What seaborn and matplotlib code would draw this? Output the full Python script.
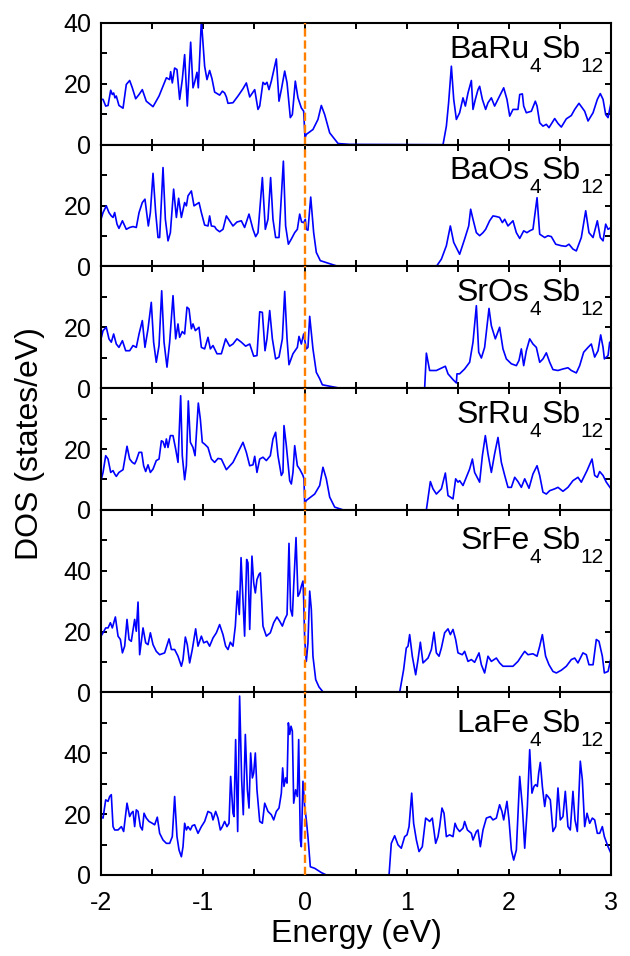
import matplotlib
matplotlib.use("Agg")
import matplotlib.pyplot as plt
import seaborn as sns
import pandas as pd
from matplotlib.ticker import MultipleLocator

# ---------------- data (energy in eV, DOS in states/eV) ----------------
e_baru = [-2.000,-1.980,-1.954,-1.931,-1.905,-1.889,-1.876,-1.863,-1.850,-1.824,-1.784,-1.752,-1.719,-1.693,-1.660,-1.627,-1.595,-1.556,-1.490,-1.431,
          -1.392,-1.359,-1.327,-1.317,-1.301,-1.278,-1.255,-1.229,-1.203,-1.180,-1.154,-1.121,-1.098,-1.082,-1.059,-1.046,-1.016,-0.984,-0.961,-0.935,
          -0.912,-0.886,-0.837,-0.810,-0.788,-0.771,-0.755,-0.706,-0.657,-0.608,-0.575,-0.542,-0.493,-0.461,-0.444,-0.412,-0.392,-0.373,-0.353,-0.330,
          -0.304,-0.281,-0.255,-0.232,-0.199,-0.176,-0.144,-0.124,-0.095,-0.069,-0.036,-0.013,0.000,0.013,0.078,0.127,0.160,0.193,0.242,0.324,
          0.438,1.353,1.386,1.408,1.435,1.458,1.484,1.516,1.549,1.572,1.598,1.631,1.647,1.670,1.696,1.712,1.739,1.771,1.794,1.827,
          1.859,1.892,1.948,1.980,2.007,2.039,2.088,2.105,2.131,2.144,2.170,2.219,2.258,2.275,2.301,2.333,2.366,2.392,2.448,2.480,
          2.513,2.562,2.611,2.644,2.686,2.719,2.742,2.775,2.824,2.866,2.895,2.922,2.948,2.971,3.000]
d_baru = [14.9,14.9,12.7,12.9,17.9,16.5,17.0,15.4,16.0,12.9,12.0,19.8,21.1,18.7,15.1,16.5,18.1,14.3,12.5,16.0,
          19.2,22.0,21.4,24.0,20.3,25.2,24.7,14.9,21.4,29.6,12.7,33.7,18.7,20.5,23.8,18.7,41.0,25.8,21.4,24.4,
          21.7,17.3,16.3,17.6,17.0,15.7,13.6,13.8,16.0,18.4,20.3,15.7,18.1,11.6,12.7,20.5,19.8,20.5,18.1,20.9,
          24.7,28.2,14.3,18.1,24.2,20.3,8.9,9.9,20.9,15.4,12.1,11.0,2.3,3.4,5.0,8.3,12.9,9.9,3.9,0.4,
          0.1,0.0,6.1,13.8,25.8,14.9,8.3,10.5,15.4,12.7,17.0,21.1,11.6,14.9,18.1,19.2,14.9,11.6,13.8,15.4,
          12.7,14.9,18.7,14.9,9.4,11.6,11.6,16.5,16.7,12.7,10.5,11.0,14.3,12.7,7.2,6.1,6.7,5.6,8.6,7.0,
          5.8,8.5,9.6,11.6,13.6,12.1,11.0,7.8,10.5,14.9,16.8,14.9,9.9,8.9,13.8]

e_baos = [-2.000,-1.980,-1.948,-1.922,-1.899,-1.882,-1.866,-1.843,-1.824,-1.790,
          -1.752,-1.719,-1.686,-1.654,-1.627,-1.595,-1.569,-1.536,-1.516,-1.490,
          -1.464,-1.441,-1.425,-1.392,-1.369,-1.343,-1.320,-1.288,-1.261,-1.239,
          -1.212,-1.180,-1.163,-1.147,-1.114,-1.088,-1.065,-1.039,-1.016,-0.984,
          -0.951,-0.935,-0.918,-0.886,-0.869,-0.837,-0.804,-0.771,-0.739,-0.706,
          -0.667,-0.624,-0.592,-0.549,-0.510,-0.484,-0.461,-0.418,-0.389,-0.363,
          -0.337,-0.314,-0.288,-0.255,-0.212,-0.190,-0.163,-0.134,-0.101,-0.075,
          -0.052,-0.033,-0.013,0.003,0.013,0.029,0.056,0.085,0.111,0.150,
          0.307,0.340,1.288,1.337,1.386,1.425,1.458,1.516,1.565,1.605,
          1.624,1.647,1.680,1.712,1.745,1.771,1.810,1.843,1.876,1.908,
          1.935,1.958,1.990,2.039,2.072,2.105,2.144,2.176,2.203,2.235,
          2.275,2.301,2.350,2.382,2.415,2.458,2.513,2.556,2.588,2.627,
          2.660,2.709,2.752,2.784,2.824,2.866,2.895,2.922,2.948,2.971,
          3.000]
d_baos = [15.5,17.7,19.9,17.7,16.6,16.1,17.7,13.9,12.5,15.0,
          12.2,12.8,13.1,12.8,17.7,21.0,22.1,13.3,17.7,30.6,
          17.7,9.5,9.5,32.5,15.5,8.4,11.1,25.4,16.1,22.4,
          16.1,21.0,19.9,23.2,24.8,19.9,20.4,21.0,17.7,13.6,
          13.3,16.6,13.3,13.1,12.2,11.4,12.2,16.6,15.0,13.3,
          14.6,15.0,12.8,17.2,12.2,9.8,11.1,29.2,12.2,15.5,
          29.2,15.5,9.5,9.5,34.6,13.3,7.3,9.0,11.1,12.2,
          17.2,14.6,14.4,15.5,12.2,11.9,22.8,11.1,4.6,1.9,
          0.2,0.0,0.0,2.4,6.8,13.3,7.9,4.0,9.0,13.3,
          18.8,15.5,11.1,10.1,11.1,12.2,15.0,16.6,16.4,16.1,
          14.4,15.5,13.3,15.0,11.1,9.2,11.7,11.1,11.7,12.2,
          22.6,10.6,9.5,10.1,9.8,7.3,6.8,6.6,7.3,5.7,
          5.1,9.5,18.3,11.1,9.5,15.0,9.5,8.4,13.9,12.2,
          12.8]

e_sros = [-2.000,-1.980,-1.948,-1.922,-1.899,-1.876,-1.850,-1.824,-1.790,-1.758,
          -1.719,-1.686,-1.654,-1.627,-1.595,-1.569,-1.539,-1.507,-1.484,-1.458,
          -1.431,-1.405,-1.382,-1.353,-1.327,-1.294,-1.268,-1.245,-1.229,-1.203,
          -1.180,-1.157,-1.137,-1.114,-1.098,-1.075,-1.039,-1.016,-0.984,-0.951,
          -0.928,-0.902,-0.863,-0.820,-0.778,-0.739,-0.706,-0.667,-0.624,-0.582,
          -0.542,-0.503,-0.471,-0.444,-0.418,-0.392,-0.373,-0.346,-0.320,-0.288,
          -0.255,-0.222,-0.199,-0.176,-0.157,-0.118,-0.075,-0.059,-0.036,-0.013,
          0.013,0.029,0.046,0.078,0.111,0.144,0.170,0.340,1.173,1.190,
          1.222,1.288,1.337,1.376,1.402,1.451,1.484,1.490,1.516,1.565,
          1.614,1.647,1.680,1.703,1.729,1.761,1.804,1.827,1.866,1.908,
          1.941,1.974,2.023,2.072,2.098,2.121,2.144,2.170,2.203,2.235,
          2.268,2.301,2.333,2.366,2.399,2.431,2.480,2.529,2.578,2.611,
          2.660,2.693,2.732,2.775,2.807,2.840,2.873,2.899,2.922,2.935,
          2.971,2.987,3.000]
d_sros = [16.2,18.9,20.0,16.2,15.1,17.8,14.5,13.4,15.6,12.3,
          12.3,14.0,13.4,17.8,22.2,13.4,19.5,28.2,15.1,8.5,
          14.0,32.0,15.1,6.9,15.1,30.4,16.2,21.1,16.7,18.6,
          17.8,26.6,26.0,19.5,21.1,18.9,20.0,13.4,12.9,16.7,
          12.9,14.0,11.3,11.3,16.2,13.8,14.5,16.2,15.1,13.8,
          14.5,10.5,10.7,25.1,24.9,12.3,16.2,25.5,16.2,9.6,
          10.2,16.2,31.8,16.2,7.7,11.3,13.4,17.0,14.5,17.8,
          12.9,13.4,23.6,12.9,5.2,3.1,1.1,0.0,0.0,11.5,
          5.8,5.8,6.6,7.2,4.7,2.8,1.7,4.7,4.7,6.3,
          8.5,15.1,27.1,11.8,9.9,13.4,26.2,20.5,16.2,20.0,
          12.9,9.6,8.0,7.4,9.1,12.9,7.4,12.3,16.2,14.5,
          13.4,8.5,9.6,11.6,8.5,6.1,5.8,6.3,6.7,5.8,
          5.0,7.4,11.8,13.4,14.5,10.2,12.3,17.5,13.4,9.6,
          10.7,15.1,14.0]

e_srru = [-2.000,-1.980,-1.954,-1.931,-1.905,-1.882,-1.866,-1.850,-1.824,-1.784,
          -1.745,-1.719,-1.693,-1.670,-1.654,-1.627,-1.601,-1.582,-1.562,-1.539,
          -1.516,-1.490,-1.458,-1.431,-1.408,-1.392,-1.373,-1.359,-1.343,-1.320,
          -1.294,-1.268,-1.245,-1.219,-1.203,-1.180,-1.163,-1.144,-1.124,-1.098,
          -1.078,-1.046,-1.026,-1.007,-0.984,-0.951,-0.918,-0.886,-0.853,-0.820,
          -0.771,-0.706,-0.657,-0.608,-0.575,-0.542,-0.510,-0.493,-0.471,-0.444,
          -0.412,-0.379,-0.340,-0.314,-0.288,-0.265,-0.232,-0.216,-0.206,-0.183,
          -0.150,-0.134,-0.118,-0.101,-0.075,-0.052,-0.020,-0.010,-0.003,0.013,
          0.095,0.144,0.176,0.209,0.242,0.291,0.373,1.190,1.229,1.255,
          1.288,1.337,1.376,1.402,1.451,1.477,1.500,1.516,1.549,1.582,
          1.614,1.641,1.663,1.712,1.739,1.768,1.794,1.827,1.859,1.892,
          1.925,1.958,1.990,2.023,2.056,2.088,2.121,2.154,2.196,2.235,
          2.275,2.301,2.333,2.366,2.399,2.448,2.480,2.529,2.578,2.627,
          2.676,2.709,2.765,2.814,2.840,2.866,2.889,2.922,2.954,3.000]
d_srru = [9.6,12.3,17.8,16.7,12.3,12.9,11.8,11.0,12.3,13.2,
          20.9,16.7,15.6,15.1,16.2,18.9,18.9,14.5,12.6,14.8,
          12.3,13.4,16.2,16.7,22.7,22.4,20.5,23.3,20.5,24.4,
          24.4,20.0,15.6,37.5,17.8,9.9,14.5,35.8,22.2,20.5,
          17.8,35.1,29.8,22.2,21.6,20.5,16.7,15.6,16.9,16.7,
          13.2,15.6,18.9,22.2,18.9,14.5,14.8,17.6,12.3,16.7,
          17.3,16.2,17.8,23.3,25.5,17.8,11.3,12.3,27.7,21.1,
          9.6,8.5,12.3,21.1,14.5,13.4,11.3,10.2,2.0,3.1,
          5.2,8.0,14.0,10.2,4.2,0.9,0.0,0.0,9.3,6.9,
          5.2,6.9,12.1,4.7,3.6,10.2,9.1,9.6,8.0,10.7,
          13.4,16.7,12.3,9.1,17.8,24.4,18.4,12.3,18.4,23.8,
          15.6,11.3,7.4,7.4,10.7,9.3,7.4,10.2,7.1,11.8,
          14.5,11.3,5.8,5.2,6.3,6.9,7.4,6.1,7.4,9.6,
          10.7,9.1,12.9,16.7,11.3,10.7,12.6,11.3,9.1,6.9]

e_srfe = [-2.000,-1.980,-1.954,-1.931,-1.908,-1.889,-1.859,-1.833,-1.810,-1.790,
          -1.768,-1.745,-1.725,-1.703,-1.670,-1.654,-1.637,-1.621,-1.588,-1.562,
          -1.539,-1.516,-1.490,-1.458,-1.425,-1.376,-1.333,-1.310,-1.278,-1.245,
          -1.212,-1.196,-1.173,-1.154,-1.131,-1.105,-1.072,-1.049,-1.016,-0.993,
          -0.961,-0.935,-0.902,-0.869,-0.837,-0.804,-0.778,-0.755,-0.732,-0.706,
          -0.683,-0.663,-0.644,-0.627,-0.608,-0.592,-0.572,-0.559,-0.542,-0.520,
          -0.503,-0.487,-0.471,-0.451,-0.438,-0.412,-0.379,-0.340,-0.307,-0.275,
          -0.248,-0.222,-0.199,-0.176,-0.157,-0.141,-0.124,-0.111,-0.088,-0.069,
          -0.052,-0.036,-0.020,-0.013,-0.003,0.013,0.029,0.046,0.062,0.078,
          0.105,0.137,0.176,0.275,0.928,0.967,0.993,1.010,1.026,1.052,
          1.085,1.108,1.131,1.157,1.206,1.239,1.265,1.288,1.314,1.337,
          1.369,1.402,1.425,1.451,1.477,1.500,1.542,1.565,1.598,1.631,
          1.663,1.706,1.729,1.761,1.794,1.827,1.876,1.908,1.941,1.990,
          2.039,2.088,2.131,2.154,2.186,2.235,2.275,2.301,2.327,2.359,
          2.392,2.431,2.464,2.513,2.562,2.611,2.644,2.676,2.725,2.758,
          2.784,2.824,2.856,2.882,2.915,2.935,2.971,3.000]
d_srfe = [18.5,19.6,21.2,21.2,22.9,21.2,24.8,18.5,17.4,13.0,
          15.2,24.0,17.4,16.8,24.0,20.1,29.7,12.4,21.2,16.3,
          15.7,19.6,15.7,13.5,12.4,13.0,17.6,14.1,14.1,11.9,
          8.6,10.8,18.2,15.7,9.7,14.1,20.9,15.2,18.5,16.3,
          16.8,15.2,17.9,19.6,22.3,19.0,15.2,14.1,16.5,15.2,
          21.8,33.3,25.6,44.3,30.5,18.5,43.7,42.6,20.7,44.8,
          36.0,32.7,37.1,38.8,39.3,21.8,18.5,19.6,22.9,24.8,
          23.4,21.8,24.0,25.6,49.0,27.3,25.1,34.9,50.9,31.6,
          32.7,34.9,36.6,30.5,17.4,10.2,16.3,33.3,27.3,11.9,
          4.2,1.8,0.2,0.0,0.0,7.5,14.6,15.2,19.0,11.9,
          5.8,10.8,16.5,9.7,11.3,14.1,19.8,13.0,11.9,14.6,
          19.6,20.9,19.0,20.7,17.4,13.0,12.4,13.5,10.2,10.8,
          9.9,13.0,9.1,6.4,11.9,10.2,11.3,9.7,8.6,8.6,
          8.6,10.2,12.4,13.5,12.4,12.7,11.9,15.2,19.0,11.9,
          9.1,6.9,6.4,7.3,8.6,10.8,11.3,9.7,13.0,12.4,
          9.1,9.1,17.4,16.8,11.9,6.4,6.9,11.3]

e_lafe = [-2.000,-1.980,-1.954,-1.931,-1.915,-1.899,-1.882,-1.866,-1.833,-1.800,
          -1.778,-1.745,-1.719,-1.703,-1.686,-1.670,-1.654,-1.637,-1.614,-1.595,
          -1.578,-1.556,-1.529,-1.497,-1.474,-1.448,-1.425,-1.392,-1.359,-1.327,
          -1.301,-1.278,-1.255,-1.235,-1.212,-1.196,-1.180,-1.163,-1.147,-1.124,
          -1.105,-1.082,-1.049,-1.016,-0.984,-0.951,-0.918,-0.902,-0.876,-0.853,
          -0.830,-0.810,-0.788,-0.765,-0.745,-0.729,-0.706,-0.696,-0.680,-0.660,
          -0.641,-0.621,-0.605,-0.585,-0.565,-0.549,-0.533,-0.516,-0.503,-0.487,
          -0.471,-0.444,-0.418,-0.395,-0.363,-0.330,-0.307,-0.281,-0.255,-0.232,
          -0.219,-0.206,-0.190,-0.176,-0.163,-0.150,-0.137,-0.124,-0.111,-0.092,
          -0.075,-0.062,-0.046,-0.036,-0.020,-0.003,0.013,0.029,0.052,0.095,
          0.160,0.209,0.824,0.846,0.879,0.912,0.944,0.977,1.000,1.020,
          1.046,1.065,1.092,1.118,1.150,1.183,1.206,1.222,1.248,1.281,
          1.304,1.320,1.343,1.363,1.386,1.418,1.451,1.471,1.490,1.516,
          1.549,1.565,1.592,1.631,1.647,1.680,1.696,1.719,1.745,1.778,
          1.817,1.843,1.876,1.908,1.931,1.948,1.980,2.000,2.023,2.046,
          2.072,2.105,2.131,2.154,2.180,2.203,2.225,2.245,2.261,2.278,
          2.291,2.307,2.327,2.350,2.366,2.382,2.405,2.431,2.458,2.480,
          2.503,2.529,2.552,2.578,2.601,2.627,2.647,2.670,2.699,2.719,
          2.742,2.765,2.791,2.817,2.840,2.866,2.889,2.915,2.935,2.971,
          3.000]
d_lafe = [19.2,18.7,24.7,24.2,25.8,26.4,15.9,14.8,14.8,15.9,
          14.3,23.6,19.2,20.3,20.9,15.9,21.4,20.9,15.9,14.8,
          20.3,18.7,17.6,17.0,16.5,19.0,13.7,11.5,10.4,10.4,
          12.6,25.8,12.6,8.2,6.0,9.3,17.0,14.8,15.9,14.8,
          16.2,16.5,13.7,15.9,17.6,20.9,20.3,18.1,20.9,18.7,
          14.8,15.9,17.6,15.9,17.0,32.4,20.3,19.2,44.5,14.3,
          58.8,31.3,19.8,46.2,28.0,22.0,40.1,31.9,33.5,40.1,
          28.0,17.6,17.0,23.6,20.9,19.8,18.1,20.9,22.0,26.9,
          35.2,29.1,31.9,30.2,50.0,46.2,48.9,47.3,23.6,28.0,
          25.8,44.5,11.5,9.3,30.8,22.5,18.1,12.6,2.7,2.2,
          0.8,0.0,0.0,10.4,12.9,9.9,8.8,12.6,13.2,15.9,
          26.9,17.0,11.5,7.7,9.3,18.7,18.1,17.6,18.7,10.4,
          12.6,15.9,22.0,20.3,12.6,13.2,12.6,17.0,15.4,14.3,
          15.4,17.6,14.8,13.7,11.5,14.3,14.8,9.3,14.8,18.7,
          19.2,18.1,18.7,23.1,20.9,18.1,24.2,18.1,8.2,4.9,
          8.2,32.4,22.5,8.8,22.5,41.2,26.9,29.1,29.7,29.1,
          33.5,37.0,29.1,22.5,26.4,25.8,24.7,14.3,15.9,28.6,
          18.1,19.2,27.5,15.9,14.8,27.5,18.1,14.3,37.4,31.3,
          15.9,20.3,17.0,18.7,18.1,13.7,13.7,15.9,12.6,9.3,
          7.1]

labels = [["BaRu", "4", "Sb", "12"],
          ["BaOs", "4", "Sb", "12"],
          ["SrOs", "4", "Sb", "12"],
          ["SrRu", "4", "Sb", "12"],
          ["SrFe", "4", "Sb", "12"],
          ["LaFe", "4", "Sb", "12"]]
energies = [e_baru, e_baos, e_sros, e_srru, e_srfe, e_lafe]
dos_values = [d_baru, d_baos, d_sros, d_srru, d_srfe, d_lafe]
y_max = [40, 40, 40, 40, 60, 60]
x_ticks = [-2, -1, 0, 1, 2, 3]

# ---------------- style ----------------
sns.set_theme(style="ticks", rc={"axes.edgecolor": "black", "xtick.color": "black",
                                 "ytick.color": "black", "text.color": "black",
                                 "axes.labelcolor": "black"})
plt.rcParams["font.family"] = ["Liberation Sans", "DejaVu Sans"]
plt.rcParams["axes.unicode_minus"] = False

W, H = 630, 956
fig = plt.figure(figsize=(W / 100, H / 100), dpi=100)
gs = fig.add_gridspec(6, 1, height_ratios=y_max, hspace=0,
                      left=101 / W, right=611 / W, top=1 - 23 / H, bottom=1 - 875 / H)

MAIN_FS, SUB_FS = 23, 15


def chem_label(ax, parts, base_pt):
    prev = None
    for i, text in enumerate(reversed(parts)):
        is_sub = (i % 2 == 0)
        fs = SUB_FS if is_sub else MAIN_FS
        dy = -(base_pt + (10 if is_sub else 0))
        if prev is None:
            t = ax.annotate(text, xy=(0.985, 1), xycoords="axes fraction",
                            xytext=(0, dy), textcoords="offset points",
                            ha="right", va="baseline", fontsize=fs)
        else:
            t = ax.annotate(text, xy=(0, 1), xycoords=(prev, "axes fraction"),
                            xytext=(0, dy), textcoords="offset points",
                            ha="right", va="baseline", fontsize=fs)
        prev = t


axes = []
for i in range(6):
    ax = fig.add_subplot(gs[i])
    axes.append(ax)
    df = pd.DataFrame({"E": energies[i], "DOS": dos_values[i]})
    sns.lineplot(data=df, x="E", y="DOS", ax=ax, color="#0000FF", lw=1.2,
                 estimator=None, sort=False)
    ax.axvline(0, color="#FF8000", lw=1.7, ls=(0, (3.5, 1.6)), zorder=3)
    ax.set_xlim(-2, 3)
    ax.set_ylim(0, y_max[i])
    ax.set_xticks(x_ticks)
    ax.xaxis.set_minor_locator(MultipleLocator(0.5))
    yt = list(range(0, y_max[i] + 1, 20))
    ax.set_yticks(yt)
    ylabels = [str(v) for v in yt]
    if i > 0:
        ylabels[-1] = ""
    ax.set_yticklabels(ylabels)
    ax.yaxis.set_minor_locator(MultipleLocator(10))
    ax.tick_params(which="both", direction="in", top=True, right=True,
                   length=4.5, width=1.4, labelsize=18)
    ax.tick_params(axis="y", which="major", pad=7)
    ax.tick_params(axis="x", which="major", pad=11.5)
    for s in ax.spines.values():
        s.set_linewidth(1.5)
        s.set_color("black")
    ax.set_ylabel("")
    if i < 5:
        ax.tick_params(labelbottom=False)
        ax.set_xlabel("")
    else:
        ax.set_xticklabels([str(v) for v in x_ticks])
        ax.set_xlabel("Energy (eV)", fontsize=23, labelpad=3)
    chem_label(ax, labels[i], 25 if y_max[i] == 40 else 28.5)

fig.text(30 / W, 1 - 444 / H, "DOS (states/eV)", rotation=90,
         ha="center", va="center", fontsize=23)

fig.savefig("out.png", dpi=100)
